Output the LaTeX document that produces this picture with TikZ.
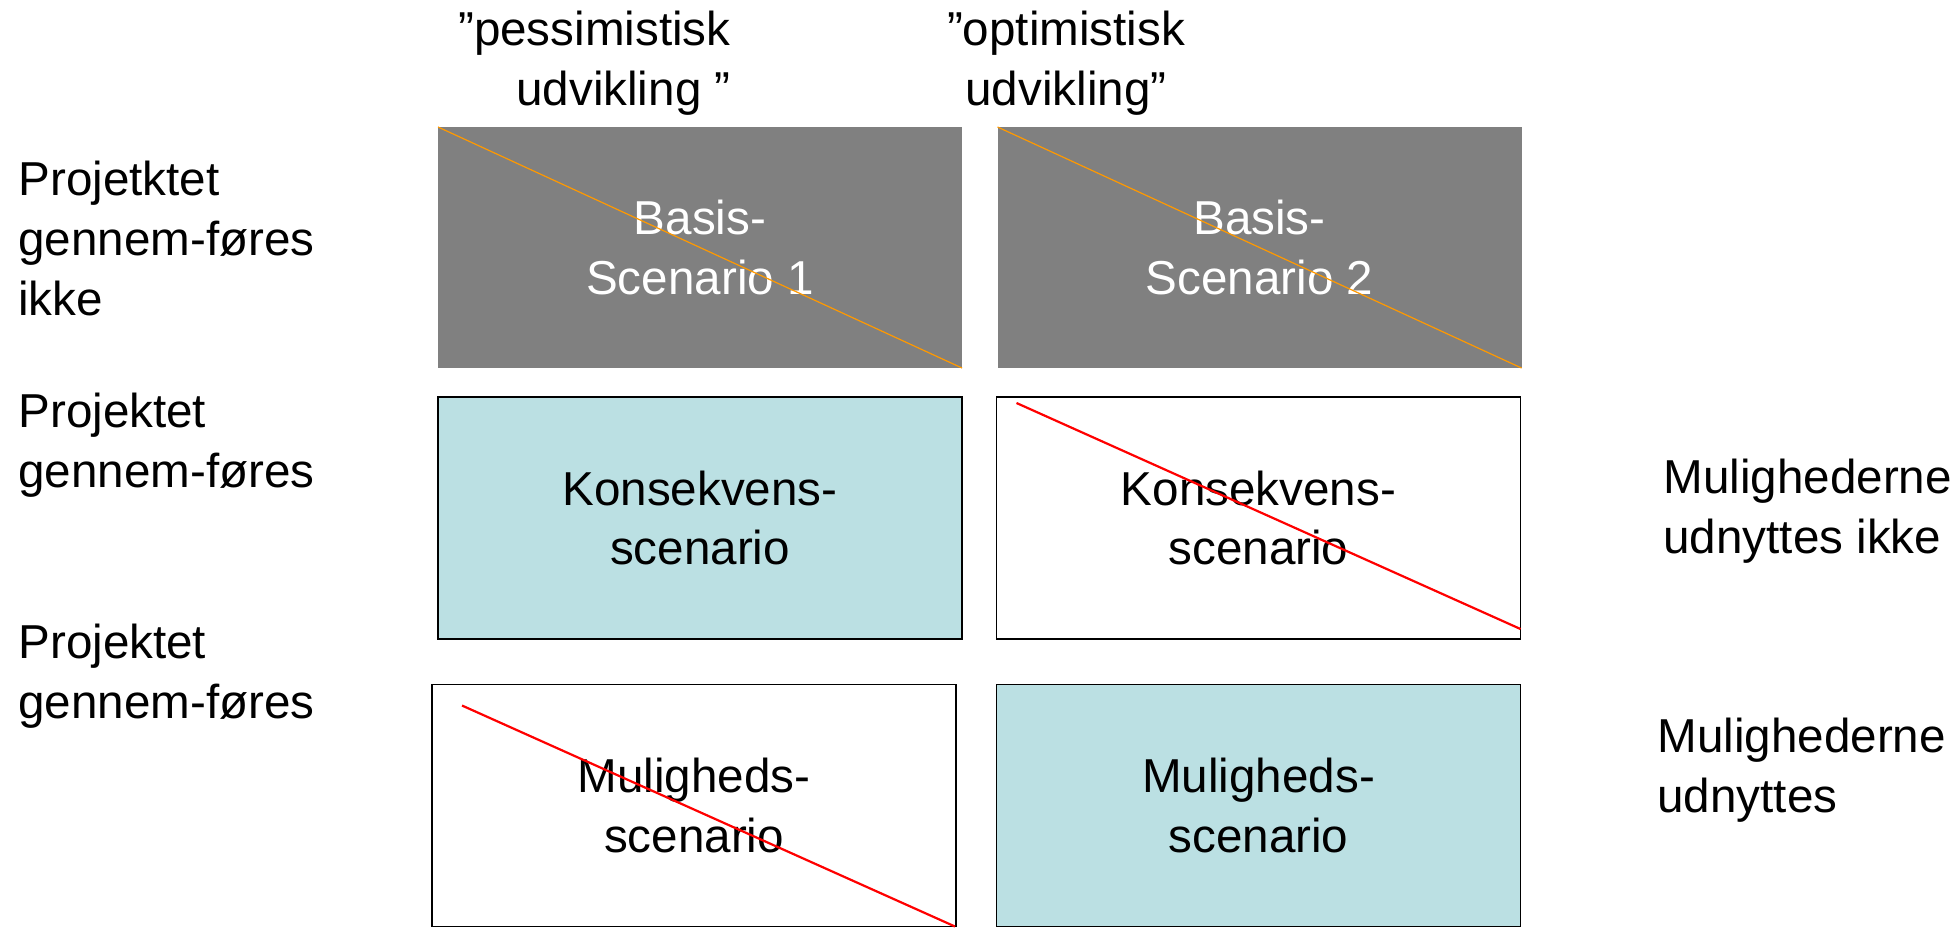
\documentclass[tikz,border=0pt]{standalone}
\usepackage{fontspec}
\setmainfont{Liberation Sans}
\usetikzlibrary{positioning}

\begin{document}
\begin{tikzpicture}[
    x=0.5pt, y=-0.5pt,
    scenbox/.style={minimum width=262pt, minimum height=121pt, inner sep=0pt, outer sep=0pt, align=center, font=\fontsize{23.8}{29.8}\selectfont},
    rowlabel/.style={anchor=base west, align=left, inner sep=0pt, font=\fontsize{23.8}{29.8}\selectfont},
    colhead/.style={anchor=base, align=center, inner sep=0pt, font=\fontsize{23.8}{29.8}\selectfont},
    basiscross/.style={draw=crossorange, line width=0.6pt},
    redcross/.style={draw=red, line width=1.1pt}
]

    % Define colors
    \definecolor{basisgray}{RGB}{128, 128, 128}
    \definecolor{scenblue}{RGB}{187, 224, 227}
    \definecolor{crossorange}{RGB}{255, 153, 0}

    \useasboundingbox (0,0) rectangle (1957,927);

    % Column headers (base = last line)
    \node[colhead, anchor=base east, align=right] (hpes) at (731,105) {”pessimistisk\\udvikling ”};
    \node[colhead] (hopt) at (1066,105) {”optimistisk\\udvikling”};

    % Basis scenarios
    \node[scenbox, fill=basisgray, text=white, minimum height=120.5pt] (bA) at (700,247.5) {Basis-\\Scenario 1};
    \node[scenbox, fill=basisgray, text=white, minimum height=120.5pt] (bB) at (1259.5,247.5) {Basis-\\Scenario 2};
    \draw[basiscross] (bA.north west) -- (bA.south east);
    \draw[basiscross] (bB.north west) -- (bB.south east);

    % Konsekvens scenarios
    \node[scenbox, draw, line width=1pt, fill=scenblue] (kA) at (700,518) {Konsekvens-\\scenario};
    \node[scenbox, draw, line width=0.8pt] (kB) at (1258.5,518) {Konsekvens-\\scenario};
    \draw[redcross] ([xshift=10pt, yshift=-3pt]kB.north west) -- ([yshift=5pt]kB.south east);

    % Muligheds scenarios
    \node[scenbox, draw, line width=0.8pt] (mA) at (694,805.5) {Muligheds-\\scenario};
    \node[scenbox, draw, line width=0.8pt, fill=scenblue] (mB) at (1258.5,805.5) {Muligheds-\\scenario};
    \draw[redcross] ([xshift=15pt, yshift=-10.5pt]mA.north west) -- ([xshift=-0.5pt]mA.south east);

    % Row labels (base = last line)
    \node[rowlabel] (lbasis) at (18,315) {Projetktet\\gennem-føres\\ikke};
    \node[rowlabel] (lkons) at (18,487) {Projektet\\gennem-føres};
    \node[rowlabel] (lmul) at (18,718) {Projektet\\gennem-føres};
    \node[rowlabel] (rkons) at (1663,553) {Mulighederne\\udnyttes ikke};
    \node[rowlabel] (rmul) at (1657,812) {Mulighederne\\udnyttes};

\end{tikzpicture}
\end{document}
